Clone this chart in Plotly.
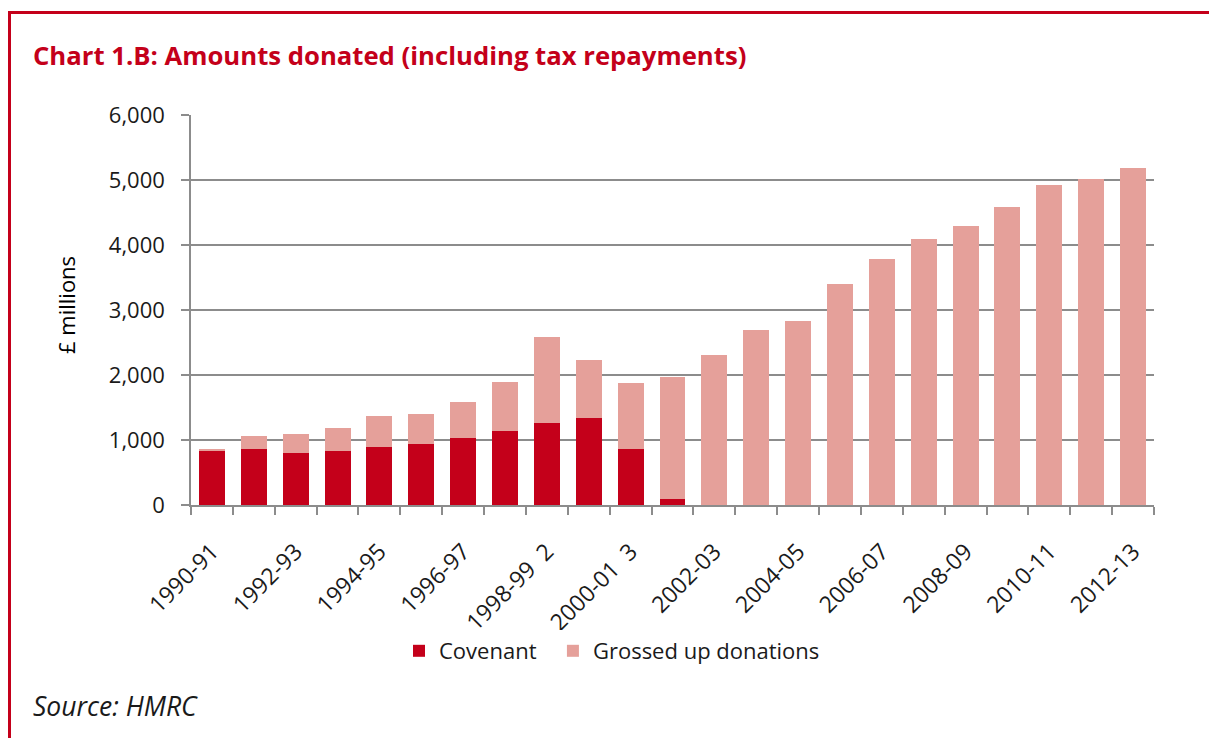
import plotly.graph_objects as go

# ---- data ----
years = ["1990-91", "1991-92", "1992-93", "1993-94", "1994-95", "1995-96",
         "1996-97", "1997-98", "1998-99", "1999-00", "2000-01", "2001-02",
         "2002-03", "2003-04", "2004-05", "2005-06", "2006-07", "2007-08",
         "2008-09", "2009-10", "2010-11", "2011-12", "2012-13"]
covenant = [825, 855, 800, 830, 885, 945, 1030, 1145, 1260, 1345, 855, 95,
            0, 0, 0, 0, 0, 0, 0, 0, 0, 0, 0]
grossed_up = [35, 210, 295, 350, 490, 455, 555, 750, 1320, 890, 1015, 1880,
              2315, 2690, 2835, 3405, 3780, 4090, 4290, 4580, 4920, 5010, 5180]
tick_labels = ["1990-91", "1992-93", "1994-95", "1996-97", "1998-99\u00a0\u00a02",
               "2000-01\u00a0\u00a03", "2002-03", "2004-05", "2006-07", "2008-09",
               "2010-11", "2012-13"]
y_ticks = [0, 1000, 2000, 3000, 4000, 5000, 6000]

# ---- layout geometry ----
W, H = 1209, 738
L, R, T, B = 191, 1154, 115, 505


def px_x(p):
    return (p - L) / (R - L)


def px_y(p):
    return (B - p) / (B - T)


RED = "#C4001A"
PINK = "#E5A09A"
GRID = "#8C8C8C"
FONT = "Open Sans, Noto Sans, sans-serif"

xs = list(range(len(years)))

fig = go.Figure()
fig.add_trace(go.Bar(x=xs, y=covenant, name="Covenant\u00a0\u00a0", marker_color=RED,
                     marker_line_width=0, customdata=years,
                     hovertemplate="%{customdata}: %{y:,}<extra>Covenant</extra>"))
fig.add_trace(go.Bar(x=xs, y=grossed_up, name="Grossed up donations",
                     marker_color=PINK, marker_line_width=0, customdata=years,
                     hovertemplate="%{customdata}: %{y:,}<extra>Grossed up donations</extra>"))

fig.update_layout(
    width=W, height=H,
    margin=dict(l=L, r=W - R, t=T, b=H - B, autoexpand=False),
    barmode="stack", bargap=0.38,
    plot_bgcolor="white", paper_bgcolor="white",
    font=dict(family=FONT, size=22, color="#1a1a1a"),
    showlegend=True,
    legend=dict(orientation="h", x=px_x(399), y=px_y(651), xanchor="left",
                yanchor="middle", font=dict(size=22, color="#1a1a1a"),
                traceorder="normal"),
    xaxis=dict(
        range=[-0.5, len(years) - 0.5],
        tickmode="array",
        tickvals=[xs[i] for i in range(0, len(years), 2)],
        ticktext=tick_labels,
        tickangle=-45,
        ticks="",
        ticklabelstandoff=22,
        showline=True, linecolor=GRID, linewidth=2,
        showgrid=False, zeroline=False,
        tickfont=dict(size=23),
        minor=dict(tickmode="linear", tick0=-0.5, dtick=1, ticks="outside",
                   ticklen=8, tickcolor=GRID, tickwidth=1.5, showgrid=False),
    ),
    yaxis=dict(
        range=[0, 6000],
        tickmode="array", tickvals=y_ticks,
        tickformat=",",
        ticks="outside", ticklen=8, tickcolor=GRID, tickwidth=1.5,
        showline=True, linecolor=GRID, linewidth=1.5,
        showgrid=True, gridcolor=GRID, gridwidth=1.5,
        zeroline=False,
        tickfont=dict(size=22),
        ticklabelstandoff=12,
    ),
)

fig.add_annotation(xref="paper", yref="paper", x=px_x(31), y=px_y(55),
                   xanchor="left", yanchor="middle", showarrow=False,
                   text="<b>Chart 1.B: Amounts donated (including tax repayments)</b>",
                   font=dict(size=25.7, color=RED, family=FONT))
fig.add_annotation(xref="paper", yref="paper", x=px_x(66), y=px_y(305),
                   xanchor="center", yanchor="middle", showarrow=False,
                   textangle=-90, text="£ millions",
                   font=dict(size=22, color="#000000", family=FONT))
fig.add_annotation(xref="paper", yref="paper", x=px_x(31), y=px_y(706),
                   xanchor="left", yanchor="middle", showarrow=False,
                   text="<i>Source: HMRC</i>",
                   font=dict(size=26.5, color="#1a1a1a", family=FONT))

# red frame
fig.add_shape(type="line", xref="paper", yref="paper",
              x0=px_x(8), x1=px_x(1215), y0=px_y(12.5), y1=px_y(12.5),
              line=dict(color=RED, width=3))
fig.add_shape(type="line", xref="paper", yref="paper",
              x0=px_x(9.5), x1=px_x(9.5), y0=px_y(11), y1=px_y(745),
              line=dict(color=RED, width=3))

fig.write_html("out.html")
